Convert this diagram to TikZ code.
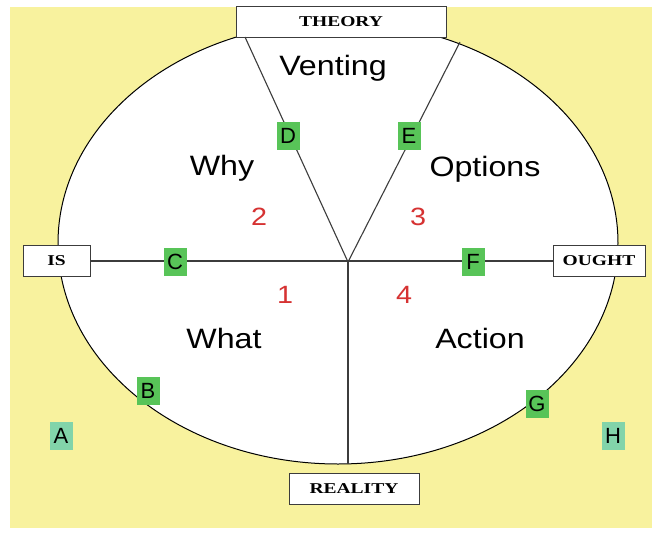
\documentclass[tikz,border=0pt]{standalone}
\usepackage{fontspec}
\setmainfont{Liberation Sans}
\newfontfamily\boxfont{Liberation Serif}
\definecolor{bgyellow}{RGB}{248,242,158}
\definecolor{lettergreen}{RGB}{88,196,88}
\definecolor{lightteal}{RGB}{130,212,170}
\definecolor{numred}{RGB}{214,50,50}
\definecolor{linegray}{RGB}{60,60,60}
\tikzset{
  labelbox/.style={draw=linegray, line width=0.9pt, fill=white, inner sep=0pt,
    minimum height=31pt, font=\boxfont\bfseries\fontsize{15}{17}\selectfont},
  letterbox/.style={fill=lettergreen, inner sep=0pt, minimum width=23pt, minimum height=28pt,
    font=\fontsize{22}{25}\selectfont},
  outerletter/.style={fill=lightteal, inner sep=0pt, minimum width=23pt, minimum height=28pt,
    font=\fontsize{22}{25}\selectfont},
  word/.style={inner sep=0pt, font=\fontsize{28}{32}\selectfont},
  num/.style={inner sep=0pt, text=numred, font=\fontsize{25}{28}\selectfont},
  spoke/.style={draw=linegray, line width=1.1pt}
}
\begin{document}
\begin{tikzpicture}[x=1pt,y=-1pt]
\useasboundingbox (0,0) rectangle (662,533);
\fill[white] (0,0) rectangle (662,533);
\fill[bgyellow] (10,7) rectangle (652,528);
% ellipse
\draw[line width=1pt, fill=white] (338,243) ellipse [x radius=280, y radius=221];
% coordinates
\coordinate (O) at (348,262);
\coordinate (TL) at (245,37);
\coordinate (TR) at (460,42);
\coordinate (BOT) at (348,464);
% boxes
\node[labelbox, minimum width=210pt] (theory) at (341,22) {\scalebox{1.3}[1]{THEORY}};
\node[labelbox, minimum width=130pt] (reality) at (354,489) {\scalebox{1.3}[1]{REALITY}};
\node[labelbox, minimum width=67pt] (is) at (56.5,261) {\scalebox{1.3}[1]{IS}};
\node[labelbox, minimum width=92pt] (ought) at (599,261) {\scalebox{1.3}[1]{OUGHT}};
% spokes
\draw[spoke] (is.east) -- (ought.west);
\draw[spoke] (O) -- (BOT);
\draw[spoke] (O) -- (TL);
\draw[spoke] (O) -- (TR);
% words
\node[word] (venting) at (333,68) {\scalebox{1.15}[1]{Venting}};
\node[word] (why) at (222,168) {\scalebox{1.15}[1]{Why}};
\node[word] (options) at (485,169) {\scalebox{1.15}[1]{Options}};
\node[word] (what) at (224,338) {\scalebox{1.15}[1]{What}};
\node[word] (action) at (480,338) {\scalebox{1.15}[1]{Action}};
% numbers
\node[num] (n2) at (259,217) {\scalebox{1.15}[1]{2}};
\node[num] (n3) at (418,217) {\scalebox{1.15}[1]{3}};
\node[num] (n1) at (285,295) {\scalebox{1.15}[1]{1}};
\node[num] (n4) at (404,295) {\scalebox{1.15}[1]{4}};
% letters
\node[letterbox] (C) at (175,262) {C};
\node[letterbox] (D) at (288,136) {D};
\node[letterbox] (E) at (409,136) {E};
\node[letterbox] (F) at (473,262) {F};
\node[letterbox] (B) at (148,391) {B};
\node[letterbox] (G) at (537,404) {G};
\node[outerletter] (A) at (61,436) {A};
\node[outerletter] (H) at (613,436) {H};
\end{tikzpicture}
\end{document}
